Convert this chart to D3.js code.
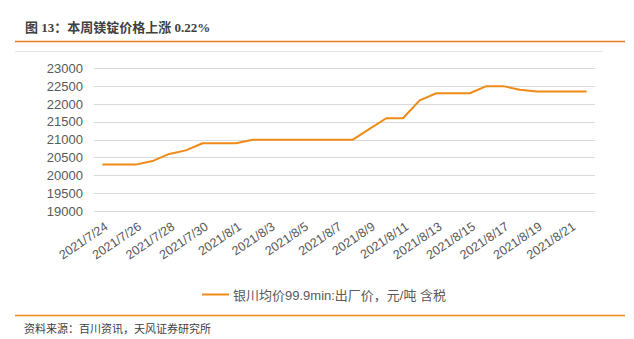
<!DOCTYPE html>
<html>
<head>
<meta charset="utf-8">
<script src="https://cdn.jsdelivr.net/npm/d3@7/dist/d3.min.js"></script>
<style>
  html, body { margin: 0; padding: 0; background: #fff; }
  svg { display: block; }
</style>
</head>
<body>
<svg id="chart" width="634" height="339"></svg>
<script>
// Daily dates, 2021-07-24 .. 2021-08-22
const dates = [
  "2021/7/24","2021/7/25","2021/7/26","2021/7/27","2021/7/28","2021/7/29","2021/7/30","2021/7/31",
  "2021/8/1","2021/8/2","2021/8/3","2021/8/4","2021/8/5","2021/8/6","2021/8/7","2021/8/8",
  "2021/8/9","2021/8/10","2021/8/11","2021/8/12","2021/8/13","2021/8/14","2021/8/15","2021/8/16",
  "2021/8/17","2021/8/18","2021/8/19","2021/8/20","2021/8/21","2021/8/22"
];
// 银川均价 99.9min 出厂价（元/吨，含税）
const prices = [
  20300, 20300, 20300, 20400, 20600, 20700, 20900, 20900,
  20900, 21000, 21000, 21000, 21000, 21000, 21000, 21000,
  21300, 21600, 21600, 22100, 22300, 22300, 22300, 22500,
  22500, 22400, 22350, 22350, 22350, 22350
];
const yTicks = [19000, 19500, 20000, 20500, 21000, 21500, 22000, 22500, 23000];
const seriesName = "银川均价99.9min:出厂价，元/吨 含税";
const titleText = "图 13：本周镁锭价格上涨 0.22%";
const sourceText = "资料来源：百川资讯，天风证券研究所";

const svg = d3.select("#chart");
const font = "Arial, 'Liberation Sans', 'Noto Sans CJK SC', sans-serif";
const titleFont = "'Liberation Serif', 'Noto Sans CJK SC', serif";
const orange = "#f08a17";
const accent = "#e6812a";

// Header
svg.append("text")
  .attr("x", 25).attr("y", 32)
  .attr("font-family", titleFont).attr("font-size", 13).attr("font-weight", "bold")
  .attr("fill", "#404040")
  .text(titleText);
svg.append("line")
  .attr("x1", 15).attr("x2", 625).attr("y1", 41.5).attr("y2", 41.5)
  .attr("stroke", accent).attr("stroke-width", 1.5);
svg.append("line")
  .attr("x1", 15).attr("x2", 603).attr("y1", 51.5).attr("y2", 51.5)
  .attr("stroke", "#e4e4e4").attr("stroke-width", 1);

// Plot area
const plot = { left: 94, right: 595, top: 68.3, bottom: 211 };

const x = d3.scaleBand()
  .domain(dates)
  .range([plot.left, plot.right])
  .paddingInner(0).paddingOuter(0);

const y = d3.scaleLinear()
  .domain([19000, 23000])
  .range([plot.bottom, plot.top]);

// Horizontal gridlines
svg.append("g")
  .selectAll("line")
  .data(yTicks)
  .join("line")
  .attr("x1", plot.left).attr("x2", plot.right)
  .attr("y1", d => Math.round(y(d)) + 0.5).attr("y2", d => Math.round(y(d)) + 0.5)
  .attr("stroke", "#d9d9d9").attr("stroke-width", 1);

// Y axis labels
const yAxis = d3.axisLeft(y).tickValues(yTicks).tickFormat(d3.format("d")).tickSize(0).tickPadding(11);
const gy = svg.append("g")
  .attr("transform", `translate(${plot.left},0)`)
  .call(yAxis);
gy.select(".domain").remove();
gy.selectAll("text")
  .attr("font-family", font).attr("font-size", 13).attr("fill", "#595959");

// X axis labels: every other day, rotated
const xAxis = d3.axisBottom(x)
  .tickValues(dates.filter((d, i) => i % 2 === 0))
  .tickSize(0);
const gx = svg.append("g")
  .attr("transform", `translate(0,${plot.bottom})`)
  .call(xAxis);
gx.select(".domain").remove();
gx.selectAll("text")
  .attr("font-family", font).attr("font-size", 12.5).attr("fill", "#595959")
  .attr("text-anchor", "end")
  .attr("y", 0)
  .attr("dy", "0.35em")
  .attr("transform", "translate(4,14) rotate(-34)");

// Price line
const line = d3.line()
  .x((d, i) => x(dates[i]) + x.bandwidth() / 2)
  .y(d => y(d));
svg.append("path")
  .datum(prices)
  .attr("d", line)
  .attr("fill", "none")
  .attr("stroke", orange)
  .attr("stroke-width", 2)
  .attr("stroke-linejoin", "round");

// Legend
svg.append("line")
  .attr("x1", 202).attr("x2", 229).attr("y1", 294.5).attr("y2", 294.5)
  .attr("stroke", orange).attr("stroke-width", 2);
svg.append("text")
  .attr("x", 233).attr("y", 299.5)
  .attr("font-family", font).attr("font-size", 13).attr("fill", "#595959")
  .text(seriesName);

// Footer
svg.append("line")
  .attr("x1", 15).attr("x2", 625).attr("y1", 315.5).attr("y2", 315.5)
  .attr("stroke", orange).attr("stroke-width", 1.5);
svg.append("text")
  .attr("x", 24).attr("y", 333)
  .attr("font-family", font).attr("font-size", 11).attr("fill", "#404040")
  .text(sourceText);
</script>
</body>
</html>
